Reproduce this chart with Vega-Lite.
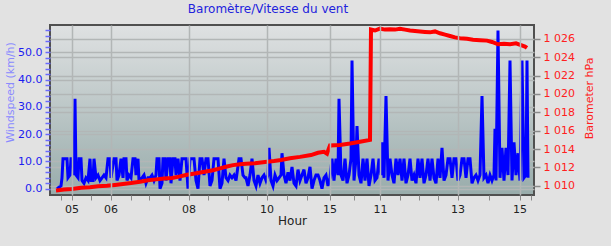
{
  "$schema": "https://vega.github.io/schema/vega-lite/v6.json",
  "width": 484,
  "height": 170,
  "autosize": "none",
  "padding": {"left": 50, "top": 25, "right": 77, "bottom": 51},
  "background": "#e2e2e2",
  "title": {"text": "Baromètre/Vitesse du vent", "color": "#2222dd", "fontSize": 12, "fontWeight": "normal", "font": "DejaVu Sans", "offset": 5, "dx": -24},
  "config": {
    "font": "DejaVu Sans",
    "view": {
      "fill": {"gradient": "linear", "x1": 0, "y1": 0, "x2": 0, "y2": 1, "stops": [{"offset": 0, "color": "#dfe1e2"}, {"offset": 1, "color": "#98acab"}]},
      "stroke": "#505050",
      "strokeWidth": 2
    }
  },
  "datasets": {
    "wind": [
      {"t":7,"w":0},{"t":9,"w":0.5},{"t":11,"w":1},{"t":12,"w":4},{"t":13,"w":11},{"t":15,"w":11},{"t":17,"w":11},{"t":18,"w":4},{"t":20,"w":5},{"t":21,"w":11},{"t":23,"w":11},{"t":24,"w":5},{"t":25,"w":33},{"t":26,"w":5},{"t":28,"w":4},{"t":29,"w":11},{"t":31,"w":11},{"t":32,"w":3},{"t":34,"w":2},{"t":36,"w":4},{"t":38,"w":3},{"t":40,"w":11},{"t":41,"w":3},{"t":43,"w":3},{"t":44,"w":11},{"t":46,"w":4},{"t":48,"w":5},{"t":50,"w":3},{"t":52,"w":4},{"t":54,"w":5},{"t":56,"w":4},{"t":58,"w":11},{"t":60,"w":11},{"t":61,"w":4},{"t":64,"w":11},{"t":66,"w":11},{"t":67,"w":3},{"t":69,"w":5},{"t":71,"w":11},{"t":73,"w":4},{"t":74,"w":11},{"t":76,"w":11},{"t":77,"w":3},{"t":79,"w":5},{"t":81,"w":4},{"t":83,"w":11},{"t":85,"w":11},{"t":86,"w":5},{"t":88,"w":11},{"t":89,"w":3},{"t":92,"w":4},{"t":94,"w":5},{"t":96,"w":2},{"t":98,"w":4},
      {"t":100,"w":4},{"t":102,"w":5},{"t":104,"w":3},{"t":106,"w":5},{"t":107,"w":11},{"t":109,"w":11},{"t":110,"w":0},{"t":112,"w":2},{"t":113,"w":11},{"t":115,"w":11},{"t":116,"w":3},{"t":118,"w":11},{"t":120,"w":11},{"t":121,"w":2},{"t":123,"w":11},{"t":125,"w":11},{"t":126,"w":5},{"t":128,"w":11},{"t":130,"w":3},{"t":132,"w":11},{"t":134,"w":11},{"t":136,"w":11},{"t":138,"w":0},{"t":140,"w":11},{"t":142,"w":11},{"t":144,"w":11},{"t":146,"w":3},{"t":148,"w":0},{"t":150,"w":11},{"t":152,"w":11},{"t":154,"w":5},{"t":156,"w":11},{"t":158,"w":11},{"t":160,"w":1},{"t":162,"w":3},{"t":164,"w":11},{"t":166,"w":11},{"t":168,"w":11},{"t":170,"w":0},{"t":172,"w":2},{"t":174,"w":11},{"t":176,"w":4},{"t":178,"w":3},{"t":180,"w":5},{"t":182,"w":4},{"t":184,"w":5},{"t":186,"w":3},{"t":189,"w":11},{"t":191,"w":11},{"t":193,"w":5},{"t":195,"w":4},
      {"t":196,"w":4},{"t":198,"w":1},{"t":200,"w":5},{"t":202,"w":11},{"t":204,"w":3},{"t":206,"w":1},{"t":208,"w":5},{"t":210,"w":2},{"t":212,"w":4},{"t":214,"w":5},{"t":216,"w":3},{"t":218,"w":5},{"t":219,"w":15},{"t":221,"w":3},{"t":223,"w":1},{"t":225,"w":5},{"t":227,"w":3},{"t":229,"w":4},{"t":231,"w":5},{"t":232,"w":13},{"t":234,"w":5},{"t":236,"w":2},{"t":238,"w":6},{"t":240,"w":3},{"t":242,"w":8},{"t":244,"w":2},{"t":246,"w":1},{"t":248,"w":7},{"t":250,"w":3},{"t":252,"w":5},{"t":254,"w":7},{"t":256,"w":2},{"t":258,"w":4},{"t":260,"w":8},{"t":262,"w":0},{"t":264,"w":3},{"t":266,"w":5},{"t":268,"w":5},{"t":270,"w":3},{"t":272,"w":0},{"t":274,"w":4},{"t":276,"w":5},{"t":278,"w":1},{"t":280,"w":4},{"t":282,"w":11},{"t":284,"w":3},{"t":286,"w":11},{"t":288,"w":5},{"t":289,"w":33},{"t":291,"w":5},
      {"t":293,"w":3},{"t":295,"w":11},{"t":297,"w":2},{"t":299,"w":5},{"t":301,"w":11},{"t":302,"w":47},{"t":304,"w":3},{"t":306,"w":11},{"t":307,"w":23},{"t":309,"w":5},{"t":311,"w":2},{"t":313,"w":11},{"t":315,"w":3},{"t":317,"w":11},{"t":319,"w":1},{"t":321,"w":5},{"t":323,"w":11},{"t":325,"w":3},{"t":327,"w":4},{"t":329,"w":11},{"t":331,"w":5},{"t":332,"w":17},{"t":334,"w":4},{"t":336,"w":34},{"t":338,"w":3},{"t":340,"w":11},{"t":342,"w":5},{"t":344,"w":2},{"t":346,"w":11},{"t":348,"w":5},{"t":350,"w":11},{"t":352,"w":3},{"t":354,"w":11},{"t":356,"w":2},{"t":358,"w":5},{"t":360,"w":11},{"t":362,"w":3},{"t":364,"w":5},{"t":366,"w":2},{"t":368,"w":11},{"t":370,"w":4},{"t":372,"w":11},{"t":374,"w":2},{"t":376,"w":5},{"t":378,"w":11},{"t":380,"w":3},{"t":382,"w":11},{"t":384,"w":4},{"t":386,"w":2},{"t":388,"w":11},{"t":390,"w":4},
      {"t":392,"w":15},{"t":394,"w":3},{"t":396,"w":5},{"t":398,"w":11},{"t":400,"w":11},{"t":402,"w":4},{"t":404,"w":11},{"t":406,"w":11},{"t":408,"w":3},{"t":410,"w":5},{"t":412,"w":11},{"t":414,"w":11},{"t":416,"w":4},{"t":418,"w":11},{"t":420,"w":11},{"t":422,"w":2},{"t":424,"w":4},{"t":426,"w":5},{"t":428,"w":3},{"t":430,"w":5},{"t":432,"w":34},{"t":434,"w":4},{"t":436,"w":5},{"t":438,"w":2},{"t":440,"w":5},{"t":442,"w":3},{"t":444,"w":5},{"t":445,"w":22},{"t":446,"w":3},{"t":448,"w":58},{"t":450,"w":4},{"t":452,"w":15},{"t":454,"w":3},{"t":456,"w":15},{"t":458,"w":5},{"t":460,"w":47},{"t":462,"w":3},{"t":464,"w":17},{"t":466,"w":5},{"t":468,"w":13},{"t":470,"w":3},{"t":472,"w":47},{"t":474,"w":4},{"t":476,"w":5},{"t":477,"w":47},{"t":478,"w":4}
    ],
    "baro": [
      {"t":6,"p":1009.5},{"t":14,"p":1009.6},{"t":22,"p":1009.65},{"t":31,"p":1009.8},{"t":40,"p":1009.85},{"t":48,"p":1009.95},{"t":57,"p":1010.0},{"t":65,"p":1010.1},{"t":73,"p":1010.2},{"t":81,"p":1010.3},{"t":90,"p":1010.45},{"t":98,"p":1010.6},{"t":106,"p":1010.7},{"t":114,"p":1010.8},{"t":122,"p":1010.85},{"t":129,"p":1011.0},{"t":137,"p":1011.2},{"t":145,"p":1011.35},{"t":153,"p":1011.5},{"t":163,"p":1011.7},{"t":170,"p":1011.9},{"t":177,"p":1012.1},{"t":183,"p":1012.25},{"t":190,"p":1012.35},{"t":196,"p":1012.4},{"t":205,"p":1012.45},{"t":215,"p":1012.6},{"t":224,"p":1012.7},{"t":231,"p":1012.8},{"t":240,"p":1013.0},{"t":250,"p":1013.15},{"t":261,"p":1013.35},{"t":268,"p":1013.6},{"t":274,"p":1013.7},{"t":277,"p":1013.5},{"t":280,"p":1014.4},{"t":290,"p":1014.45},{"t":300,"p":1014.6},{"t":310,"p":1014.8},{"t":320,"p":1015.0},{"t":321,"p":1027.0},{"t":325,"p":1026.9},{"t":330,"p":1027.1},{"t":335,"p":1027.0},{"t":340,"p":1027.05},{"t":345,"p":1027.0},{"t":350,"p":1027.1},{"t":355,"p":1027.0},{"t":360,"p":1026.9},{"t":365,"p":1026.85},{"t":370,"p":1026.8},{"t":375,"p":1026.75},{"t":380,"p":1026.7},{"t":385,"p":1026.8},{"t":390,"p":1026.6},{"t":395,"p":1026.45},{"t":400,"p":1026.3},{"t":405,"p":1026.15},{"t":410,"p":1026.07},{"t":417,"p":1026.0},{"t":423,"p":1025.9},{"t":430,"p":1025.85},{"t":437,"p":1025.8},{"t":442,"p":1025.65},{"t":448,"p":1025.4},{"t":454,"p":1025.45},{"t":460,"p":1025.4},{"t":466,"p":1025.5},{"t":471,"p":1025.3},{"t":475,"p":1025.15},{"t":477,"p":1025.0}
    ]
  },
  "layer": [
    {
      "data": {"name": "wind"},
      "mark": {"type": "line", "color": "#0000ff", "strokeWidth": 3},
      "encoding": {
        "x": {
          "field": "t", "type": "quantitative",
          "scale": {"domain": [0, 484], "nice": false, "zero": false},
          "axis": {
            "orient": "bottom",
            "title": "Hour",
            "zindex": 1,
            "values": [21.5, 60.5, 138.5, 216.5, 279.5, 330, 407.5, 469.5],
            "labelExpr": "datum.value<40?'05':datum.value<100?'06':datum.value<170?'08':datum.value<250?'10':datum.value<300?'15':datum.value<360?'11':datum.value<440?'13':'15'",
            "labelOverlap": false,
            "labelBound": false,
            "labelFlush": false,
            "labelSeparation": 0,
            "labelColor": "#222222",
            "labelFontSize": 11,
            "labelPadding": 3,
            "tickColor": "#8a8a8a",
            "tickSize": 5,
            "domain": false,
            "grid": true,
            "gridColor": "#b2b6b6",
            "gridWidth": 1.5,
            "titleColor": "#222222",
            "titleFontSize": 12,
            "titleFontWeight": "normal",
            "titlePadding": 1
          }
        },
        "y": {
          "field": "w", "type": "quantitative",
          "scale": {"domain": [-2.3, 60], "nice": false, "zero": false},
          "axis": {
            "orient": "left",
            "title": "Windspeed (km/h)",
            "tickCount": 200,
            "values": [0,2,4,6,8,10,12,14,16,18,20,22,24,26,28,30,32,34,36,38,40,42,44,46,48,50,52,54,56,58],
            "labelExpr": "datum.value % 10 == 0 ? datum.label : ''",
            "labelOverlap": false,
            "labelColor": "#1c1cf0",
            "labelFontSize": 11,
            "labelPadding": 3,
            "tickColor": "#6a6aff",
            "tickWidth": 1.5,
            "tickSize": 5,
            "domain": false,
            "grid": true,
            "gridColor": "#b2b6b6",
            "gridWidth": 1.5,
            "gridOpacity": {"condition": {"test": "datum.value % 10 == 0", "value": 1}, "value": 0},
            "titleColor": "#8a8aff",
            "titleFontSize": 11,
            "titleFontWeight": "normal",
            "titleBaseline": "middle",
            "titleX": -40,
            "titleY": 67
          }
        }
      }
    },
    {
      "data": {"name": "baro"},
      "mark": {"type": "line", "color": "#ff0000", "strokeWidth": 4},
      "encoding": {
        "x": {
          "field": "t", "type": "quantitative",
          "axis": {
            "orient": "bottom",
            "title": null,
            "tickCount": 50,
            "values": [10.5, 40.5, 80.5, 98.5, 118.5, 157.5, 177.5, 196.5, 236.5, 256.5, 303.5, 349.5, 368.5, 387.5, 438.5, 480.5],
            "labels": false,
            "tickColor": "#8a8a8a",
            "tickSize": 5,
            "domain": false,
            "grid": false
          }
        },
        "y": {
          "field": "p", "type": "quantitative",
          "scale": {"domain": [1009, 1027.5], "nice": false, "zero": false},
          "axis": {
            "orient": "right",
            "title": "Barometer hPa",
            "tickCount": 200,
            "values": [1010, 1012, 1014, 1016, 1018, 1020, 1022, 1024, 1026],
            "labelExpr": "'1 ' + format(datum.value - 1000, '03d')",
            "labelColor": "#ff2020",
            "labelFontSize": 11,
            "labelPadding": 3,
            "tickColor": "#8a8a8a",
            "tickWidth": 1.5,
            "tickSize": 6,
            "domain": false,
            "grid": true,
            "gridColor": "#b2b6b6",
            "gridWidth": 1.5,
            "titleColor": "#ff2020",
            "titleFontSize": 11,
            "titleFontWeight": "normal",
            "titleAngle": 270,
            "titleBaseline": "middle",
            "titleX": 55,
            "titleY": 73
          }
        }
      }
    }
  ],
  "resolve": {"scale": {"y": "independent"}, "axis": {"x": "independent"}}
}
